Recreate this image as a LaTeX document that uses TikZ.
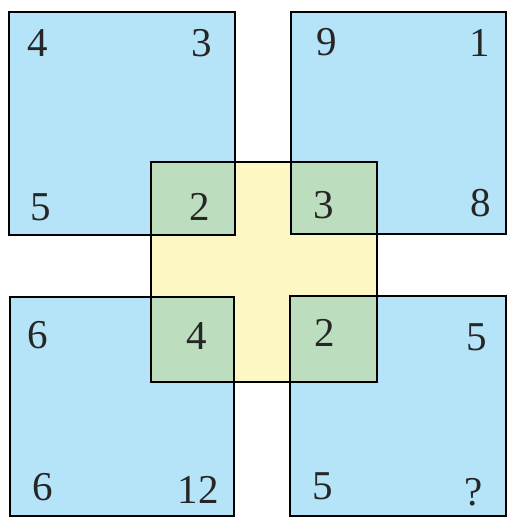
\documentclass[tikz,border=0pt]{standalone}
\usepackage{fontspec}
\setmainfont{Liberation Serif}
\definecolor{sqblue}{RGB}{181,227,247}
\definecolor{sqgreen}{RGB}{189,222,190}
\definecolor{sqyellow}{RGB}{253,247,196}
\begin{document}
\begin{tikzpicture}[x=1pt,y=-1pt,
  edge/.style={draw=black,line width=2.6pt,line join=miter},
  num/.style={font=\fontsize{41}{48}\selectfont,inner sep=0pt,text=black!85}]
\useasboundingbox (0,0) rectangle (509,518);
% blue squares
\fill[sqblue] (9,12) rectangle (235,235);
\fill[sqblue] (291,12) rectangle (506,234);
\fill[sqblue] (10,297) rectangle (234,516);
\fill[sqblue] (290,296) rectangle (506,516);
% yellow square
\fill[sqyellow] (151,162) rectangle (377,382);
% green overlaps
\fill[sqgreen] (151,162) rectangle (235,235);
\fill[sqgreen] (291,162) rectangle (377,234);
\fill[sqgreen] (151,297) rectangle (234,382);
\fill[sqgreen] (290,296) rectangle (377,382);
% outlines
\draw[edge] (9,12) rectangle (235,235);
\draw[edge] (291,12) rectangle (506,234);
\draw[edge] (10,297) rectangle (234,516);
\draw[edge] (290,296) rectangle (506,516);
\draw[edge] (151,162) rectangle (377,382);
% numbers
\node[num] (a1) at (38,43) {4};
\node[num] (a2) at (202,43) {3};
\node[num] (a3) at (41,207) {5};
\node[num] (a4) at (200,207) {2};
\node[num] (b1) at (327,42) {9};
\node[num] (b2) at (480,43) {1};
\node[num] (b3) at (324,205) {3};
\node[num] (b4) at (481,203) {8};
\node[num] (c1) at (38,335) {6};
\node[num] (c2) at (197,336) {4};
\node[num] (c3) at (43,487) {6};
\node[num] (c4) at (198,490) {12};
\node[num] (d1) at (325,333) {2};
\node[num] (d2) at (477,337) {5};
\node[num] (d3) at (323,486) {5};
\node[num] (d4) at (474,492) {?};
\end{tikzpicture}
\end{document}
